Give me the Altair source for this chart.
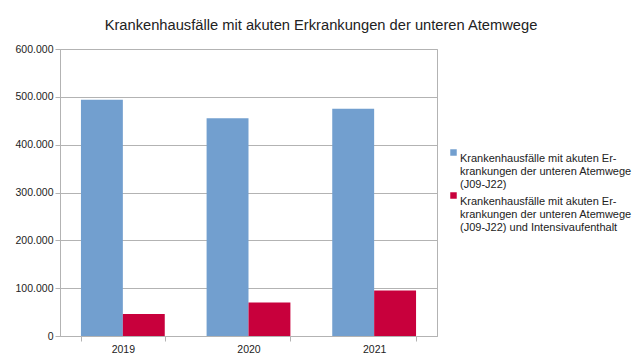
import altair as alt
import pandas as pd

years = ["2019", "2020", "2021"]
series_names = [
    "Krankenhausfälle mit akuten Er-|krankungen der unteren Atemwege|(J09-J22)",
    "Krankenhausfälle mit akuten Er-|krankungen der unteren Atemwege|(J09-J22) und Intensivaufenthalt",
]
values_all = [494000, 455000, 475000]
values_icu = [46000, 70000, 95000]
colors = ["#729fcf", "#c8003c"]
y_ticks = [0, 100000, 200000, 300000, 400000, 500000, 600000]

rows = []
for i, y in enumerate(years):
    rows.append({"Jahr": y, "Serie": series_names[0], "Wert": values_all[i]})
    rows.append({"Jahr": y, "Serie": series_names[1], "Wert": values_icu[i]})
df = pd.DataFrame(rows)

font = "Liberation Sans"

chart = alt.Chart(df).mark_bar().encode(
    x=alt.X("Jahr:N", title=None,
            scale=alt.Scale(paddingInner=0.333, paddingOuter=0.1667),
            axis=alt.Axis(labelAngle=0, tickBand="extent", grid=False,
                          domainColor="#b3b3b3", tickColor="#b3b3b3",
                          tickSize=5, labelFontSize=10.5, labelColor="#222",
                          labelFont=font, labelPadding=3)),
    xOffset=alt.XOffset("Serie:N", sort=series_names),
    y=alt.Y("Wert:Q", title=None,
            scale=alt.Scale(domain=[0, 600000], nice=False),
            axis=alt.Axis(values=y_ticks,
                          labelExpr="replace(format(datum.value, ',d'), ',', '.')",
                          gridColor="#b3b3b3",
                          domainColor="#b3b3b3", tickColor="#b3b3b3",
                          tickSize=5, labelFontSize=10.5, labelColor="#222",
                          labelFont=font, labelPadding=2)),
    color=alt.Color("Serie:N", sort=series_names,
                    scale=alt.Scale(domain=series_names, range=colors),
                    legend=alt.Legend(title=None, orient="none",
                                      legendX=388, legendY=98,
                                      symbolType="square", symbolSize=42,
                                      symbolStrokeWidth=0,
                                      labelExpr="split(datum.label, '|')",
                                      labelFontSize=11, labelFont=font,
                                      labelColor="#222", labelLimit=300,
                                      labelBaseline="top", labelOffset=1,
                                      rowPadding=-4)),
).properties(
    width=377,
    height=287,
    title=alt.TitleParams("Krankenhausfälle mit akuten Erkrankungen der unteren Atemwege",
                          font=font, fontSize=14.7, fontWeight="normal",
                          color="#222", anchor="middle", dx=72.5, offset=11),
    padding={"left": 52, "top": 41, "right": 197, "bottom": 18},
    autosize=alt.AutoSizeParams(type="none"),
).configure_view(
    stroke="#b3b3b3"
)

chart.save("out.html", embed_options={"renderer": "svg", "actions": False})
